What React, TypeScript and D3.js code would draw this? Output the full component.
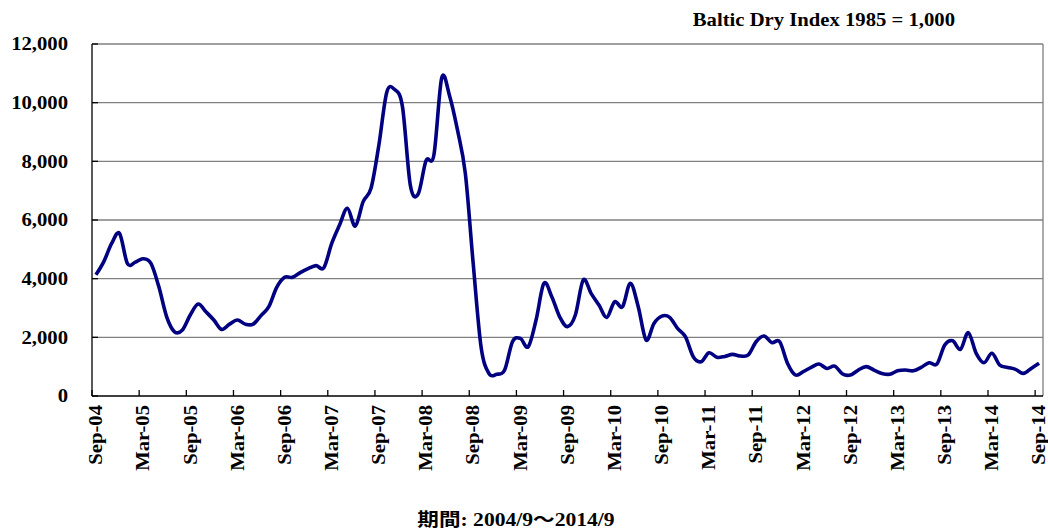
import * as d3 from 'd3';
import { useEffect, useRef } from 'react';

// Baltic Dry Index, monthly, Sep-2004 .. Sep-2014
const bdiValues = [
  4130, 4580, 5200, 5545, 4520, 4560, 4680, 4520, 3730, 2700, 2190, 2250,
  2760, 3135, 2870, 2590, 2270, 2450, 2590, 2450, 2450, 2740, 3045, 3700,
  4045, 4045, 4205, 4340, 4445, 4375, 5200, 5830, 6400, 5795, 6625, 7080,
  8555, 10350, 10450, 9865, 7190, 6885, 8025, 8215, 10850, 10230, 9070, 7590,
  4520, 1680, 770, 740, 885, 1850, 1965, 1680, 2590, 3840, 3385, 2700,
  2365, 2760, 3955, 3500, 3100, 2680, 3215, 3045, 3840, 3045, 1910, 2475,
  2725, 2680, 2305, 2020, 1340, 1170, 1475, 1320, 1350, 1420, 1365, 1400,
  1850, 2045, 1820, 1850, 1110, 715, 830, 975, 1090, 940, 1020, 750,
  715, 885, 1000, 885, 770, 740, 860, 885, 860, 975, 1135, 1090,
  1740, 1885, 1590, 2160, 1455, 1135, 1455, 1055, 975, 910, 770, 940,
  1115,
];

// one label every 6 months
const tickLabels = [
  'Sep-04', 'Mar-05', 'Sep-05', 'Mar-06', 'Sep-06', 'Mar-07', 'Sep-07',
  'Mar-08', 'Sep-08', 'Mar-09', 'Sep-09', 'Mar-10', 'Sep-10', 'Mar-11',
  'Sep-11', 'Mar-12', 'Sep-12', 'Mar-13', 'Sep-13', 'Mar-14', 'Sep-14',
];

const yTicks = [0, 2000, 4000, 6000, 8000, 10000, 12000];

const titleText = 'Baltic Dry Index 1985 = 1,000';
const periodText = '期間: 2004/9～2014/9';

const serif = '"Times New Roman", "Liberation Serif", "Noto Sans CJK JP", serif';
const stretch = 'scale(1.15,1)'; // the source renders its Times a bit wide

export default function App() {
  const ref = useRef<SVGSVGElement | null>(null);

  useEffect(() => {
    const svg = d3.select(ref.current);
    const width = 1048;
    const height = 530;
    const margin = { top: 44, right: 5, bottom: 134, left: 92 };

    svg.selectAll('*').remove();
    svg.attr('width', width).attr('height', height);

    const x = d3.scaleBand<number>()
      .domain(d3.range(bdiValues.length))
      .range([margin.left, width - margin.right])
      .paddingInner(0)
      .paddingOuter(0);

    const y = d3.scaleLinear()
      .domain([0, 12000])
      .range([height - margin.bottom, margin.top]);

    const bw = x.bandwidth();
    const x0 = margin.left;
    const x1 = width - margin.right;
    const yBottom = height - margin.bottom;

    // gridlines
    svg.append('g')
      .selectAll('line')
      .data(yTicks.filter(d => d > 0))
      .join('line')
      .attr('x1', x0)
      .attr('x2', x1)
      .attr('y1', d => y(d))
      .attr('y2', d => y(d))
      .attr('stroke', '#7f7f7f')
      .attr('stroke-width', 1.3);

    // right border of plot area
    svg.append('line')
      .attr('x1', x1).attr('x2', x1)
      .attr('y1', y(12000)).attr('y2', yBottom)
      .attr('stroke', '#7f7f7f')
      .attr('stroke-width', 1.3);

    // y axis
    const yAxis = svg.append('g');
    yAxis.append('line')
      .attr('x1', x0).attr('x2', x0)
      .attr('y1', y(12000)).attr('y2', yBottom)
      .attr('stroke', '#000').attr('stroke-width', 1.3);
    yAxis.selectAll('line.tick')
      .data(yTicks)
      .join('line')
      .attr('class', 'tick')
      .attr('x1', x0).attr('x2', x0 + 6)
      .attr('y1', d => y(d)).attr('y2', d => y(d))
      .attr('stroke', '#000').attr('stroke-width', 1.3);
    yAxis.selectAll('text')
      .data(yTicks)
      .join('text')
      .attr('transform', d => `translate(68,${y(d)}) ${stretch}`)
      .attr('dy', '0.35em')
      .attr('text-anchor', 'end')
      .attr('font-family', serif)
      .attr('font-weight', 'bold')
      .attr('font-size', 18)
      .text(d => d3.format(',')(d));

    // x axis
    const xAxis = svg.append('g');
    xAxis.append('line')
      .attr('x1', x0).attr('x2', x1)
      .attr('y1', yBottom).attr('y2', yBottom)
      .attr('stroke', '#000').attr('stroke-width', 1.3);
    const tickIdx = tickLabels.map((_, k) => k * 6);
    xAxis.selectAll('line.tick')
      .data(tickIdx)
      .join('line')
      .attr('class', 'tick')
      .attr('x1', d => x(d)!).attr('x2', d => x(d)!)
      .attr('y1', yBottom).attr('y2', yBottom - 6)
      .attr('stroke', '#000').attr('stroke-width', 1.3);
    xAxis.selectAll('text')
      .data(tickIdx)
      .join('text')
      .attr('transform', d => `translate(${x(d)! + bw / 2},${yBottom + 9}) rotate(-90) ${stretch}`)
      .attr('dy', '0.35em')
      .attr('text-anchor', 'end')
      .attr('font-family', serif)
      .attr('font-weight', 'bold')
      .attr('font-size', 18)
      .text((_, k) => tickLabels[k]);

    // the index line
    const line = d3.line<number>()
      .x((_, i) => x(i)! + bw / 2)
      .y(d => y(d))
      .curve(d3.curveCardinal.tension(0));

    svg.append('path')
      .datum(bdiValues)
      .attr('fill', 'none')
      .attr('stroke', '#000080')
      .attr('stroke-width', 3.6)
      .attr('stroke-linejoin', 'round')
      .attr('d', line);

    // title + period caption
    svg.append('text')
      .attr('transform', `translate(955,26) ${stretch}`)
      .attr('text-anchor', 'end')
      .attr('font-family', serif)
      .attr('font-weight', 'bold')
      .attr('font-size', 18)
      .text(titleText);

    svg.append('text')
      .attr('transform', 'translate(516,526) scale(1.2,1)')
      .attr('text-anchor', 'middle')
      .attr('font-family', serif)
      .attr('font-weight', 'bold')
      .attr('font-size', 18)
      .text(periodText);
  }, []);

  return <svg ref={ref} style={{ position: 'absolute', left: 0, top: 0 }}></svg>;
}
